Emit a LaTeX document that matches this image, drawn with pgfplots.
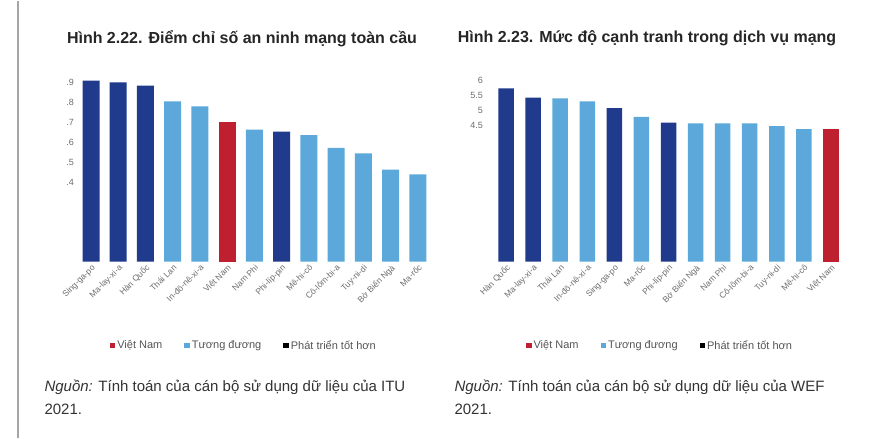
\documentclass[border=0pt]{standalone}
\usepackage{fontspec}
\setmainfont{Liberation Sans}
\usepackage{pgfplots}
\pgfplotsset{compat=1.18}
\definecolor{dkblue}{RGB}{32,58,140}
\definecolor{ltblue}{RGB}{92,168,218}
\definecolor{vnred}{RGB}{190,32,48}
\definecolor{txtgray}{RGB}{110,110,110}
\definecolor{legtxt}{RGB}{85,85,85}
\pgfplotsset{
  common/.style={
    scale only axis, anchor=south west,
    xmin=-0.5, xmax=12.5, ymin=0,
    xtick={0,...,12},
    axis line style={draw=none},
    major tick length=0pt,
    /pgf/number format/assume math mode=true,
    tick label style={font=\fontsize{9bp}{10bp}\selectfont, text=txtgray},
    x tick label style={rotate=45, anchor=north east, inner sep=1.5bp, font=\fontsize{8.5bp}{9bp}\selectfont},
    ybar, bar shift=0pt,
    legend columns=3,
    legend style={draw=none, fill=none, font=\fontsize{11bp}{12bp}\selectfont, text=legtxt,
      anchor=center, /tikz/every even column/.append style={column sep=20bp}},
    legend image code/.code={\fill[##1] (0bp,-2.5bp) rectangle (5.5bp,3bp);},
  }
}
\begin{document}
\begin{tikzpicture}
\path[fill=white] (0bp,0bp) rectangle (872bp,437bp);
\draw[gray!70, line width=1.2bp] (18bp,0bp) -- (18bp,437bp);
% Left chart
\begin{axis}[common, at={(77.4bp,176bp)}, width=354bp, height=199bp, ymax=1,
  bar width=17bp,
  ytick={0.4,0.5,0.6,0.7,0.8,0.9}, yticklabels={.4,.5,.6,.7,.8,.9},
  xticklabels={Sing-ga-po,Ma-lay-xi-a,Hàn Quốc,Thái Lan,In-đô-nê-xi-a,Việt Nam,Nam Phi,Phi-líp-pin,Mê-hi-cô,Cô-lôm-bi-a,Tuy-ni-di,Bờ Biển Ngà,Ma-rốc},
  legend style={at={(0.47,-0.422)}}]
\addplot[fill=vnred, draw=none] coordinates {(5,0.703)};
\addlegendentry{Việt Nam}
\addplot[fill=ltblue, draw=none] coordinates {(3,0.805) (4,0.78) (6,0.663) (8,0.636) (9,0.571) (10,0.544) (11,0.462) (12,0.438)};
\addlegendentry{Tương đương}
\addplot[fill=dkblue, draw=none, forget plot] coordinates {(0,0.909) (1,0.90) (2,0.884) (7,0.653)};
\addlegendimage{fill=black, draw=none}
\addlegendentry{Phát triển tốt hơn}
\end{axis}
% Right chart
\begin{axis}[common, at={(492.5bp,176bp)}, width=352bp, height=187bp, ymax=6.2,
  bar width=15.5bp,
  ytick={4.5,5,5.5,6}, yticklabels={4.5,5,5.5,6},
  yticklabel style={xshift=-6bp},
  xticklabels={Hàn Quốc,Ma-lay-xi-a,Thái Lan,In-đô-nê-xi-a,Sing-ga-po,Ma-rốc,Phi-líp-pin,Bờ Biển Ngà,Nam Phi,Cô-lôm-bi-a,Tuy-ni-di,Mê-hi-cô,Việt Nam},
  legend style={at={(0.476,-0.449)}}]
\addplot[fill=vnred, draw=none] coordinates {(12,4.39)};
\addlegendentry{Việt Nam}
\addplot[fill=ltblue, draw=none] coordinates {(2,5.41) (3,5.31) (5,4.80) (7,4.58) (8,4.58) (9,4.58) (10,4.49) (11,4.39)};
\addlegendentry{Tương đương}
\addplot[fill=dkblue, draw=none, forget plot] coordinates {(0,5.74) (1,5.44) (4,5.09) (6,4.61)};
\addlegendimage{fill=black, draw=none}
\addlegendentry{Phát triển tốt hơn}
\end{axis}
% Titles
\node[font=\bfseries\fontsize{16bp}{18bp}\selectfont, text=black!85] at (242bp,399bp) {Hình 2.22. Điểm chỉ số an ninh mạng toàn cầu};
\node[font=\bfseries\fontsize{16bp}{18bp}\selectfont, text=black!85] at (647bp,399bp) {Hình 2.23. Mức độ cạnh tranh trong dịch vụ mạng};
% Sources
\node[anchor=west, font=\fontsize{15bp}{17bp}\selectfont, text=black!80] at (41bp,50bp) {\textit{Nguồn:} Tính toán của cán bộ sử dụng dữ liệu của ITU};
\node[anchor=west, font=\fontsize{15bp}{17bp}\selectfont, text=black!80] at (41bp,28bp) {2021.};
\node[anchor=west, font=\fontsize{15bp}{17bp}\selectfont, text=black!80] at (451bp,50bp) {\textit{Nguồn:} Tính toán của cán bộ sử dụng dữ liệu của WEF};
\node[anchor=west, font=\fontsize{15bp}{17bp}\selectfont, text=black!80] at (451bp,28bp) {2021.};
\end{tikzpicture}
\end{document}
